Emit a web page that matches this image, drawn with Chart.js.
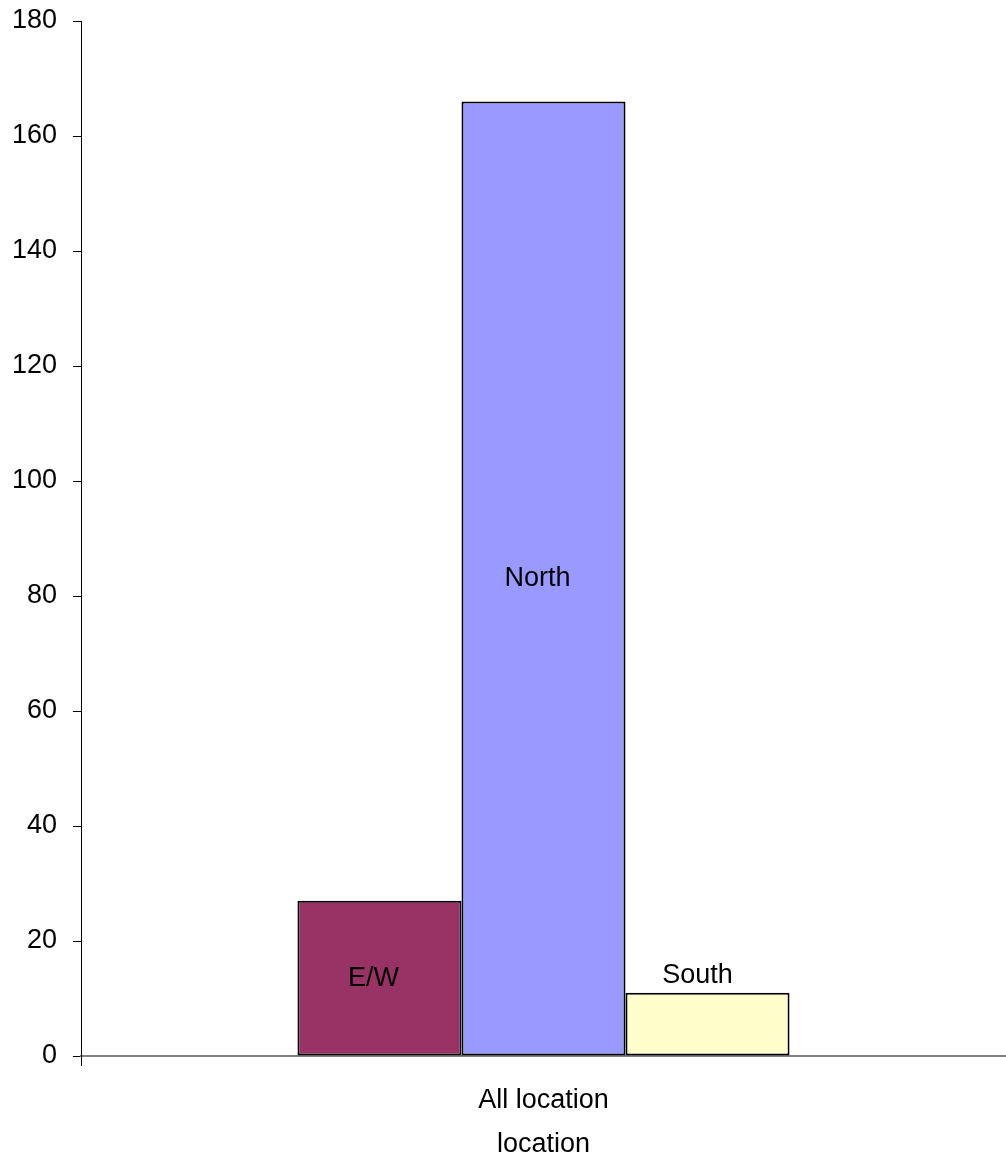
<!DOCTYPE html>
<html>
<head>
<meta charset="utf-8">
<title>location</title>
<script src="https://cdn.jsdelivr.net/npm/chart.js@4/dist/chart.umd.min.js"></script>
<style>
  body { margin: 0; background: #fff; }
  #wrap { width: 1006px; height: 1161px; }
</style>
</head>
<body>
<div id="wrap"><canvas id="myChart"></canvas></div>
<script>
'use strict';

let categories = ['All location'];
let seriesNames = ['E/W', 'North', 'South'];
let ewValues = [27];
let northValues = [166];
let southValues = [11];
let yTicks = [0, 20, 40, 60, 80, 100, 120, 140, 160, 180];

let fillColors = ['#993366', '#9999FF', '#FFFFCC'];
let fontFamily = '"Liberation Sans", Arial, sans-serif';

// writes the series name on each bar, above it when the bar is too short
let barNames = {
    id: 'barNames',
    afterDatasetsDraw(chart) {
        let ctx = chart.ctx;
        ctx.save();
        ctx.font = '27px ' + fontFamily;
        ctx.fillStyle = '#000';
        ctx.textAlign = 'center';
        chart.data.datasets.forEach(function (ds, i) {
            let bar = chart.getDatasetMeta(i).data[0];
            let h = bar.base - bar.y;
            if (h < 27 * 3) {
                ctx.textBaseline = 'bottom';
                ctx.fillText(ds.label, bar.x - 10, bar.y - 4);
            } else {
                ctx.textBaseline = 'middle';
                ctx.fillText(ds.label, bar.x - 6, (bar.y + bar.base) / 2);
            }
        });
        ctx.restore();
    }
};

let allSeries = [ewValues, northValues, southValues];
let datasets = [];
for (let i = 0; i < seriesNames.length; i++) {
    datasets.push({
        label: seriesNames[i],
        data: allSeries[i],
        backgroundColor: fillColors[i],
        borderColor: '#000',
        borderWidth: 2,
        borderSkipped: false,
        barPercentage: 1,
        categoryPercentage: 0.532
    });
}

let ctx = document.getElementById('myChart').getContext('2d');
let myChart = new Chart(ctx, {
    type: 'bar',
    data: {
        labels: categories,
        datasets: datasets
    },
    plugins: [barNames],
    options: {
        responsive: true,
        maintainAspectRatio: false,
        animation: false,
        layout: { padding: { top: 21, right: 0, left: 0, bottom: 0 } },
        plugins: {
            legend: { display: false },
            tooltip: { enabled: false }
        },
        scales: {
            x: {
                offset: true,
                border: { color: '#808080', width: 2 },
                grid: { offset: true, drawOnChartArea: false, color: '#000', tickLength: 10 },
                ticks: { color: '#000', padding: 18, font: { family: fontFamily, size: 27 } },
                title: {
                    display: true,
                    text: 'location',
                    color: '#000',
                    padding: { top: 4, bottom: 0 },
                    font: { family: fontFamily, size: 27 }
                },
                afterFit(scale) { scale.height = 105; }
            },
            y: {
                min: yTicks[0],
                max: yTicks[yTicks.length - 1],
                border: { color: '#000', width: 1 },
                grid: { drawOnChartArea: false, color: '#000', tickLength: 8 },
                afterBuildTicks(scale) {
                    scale.ticks = yTicks.map(function (v) { return { value: v }; });
                },
                ticks: { color: '#000', padding: 16, font: { family: fontFamily, size: 27 } },
                afterFit(scale) {
                    scale.width = 81;
                    scale.paddingTop = 0;
                    scale.paddingBottom = 0;
                }
            }
        }
    }
});
</script>
</body>
</html>
